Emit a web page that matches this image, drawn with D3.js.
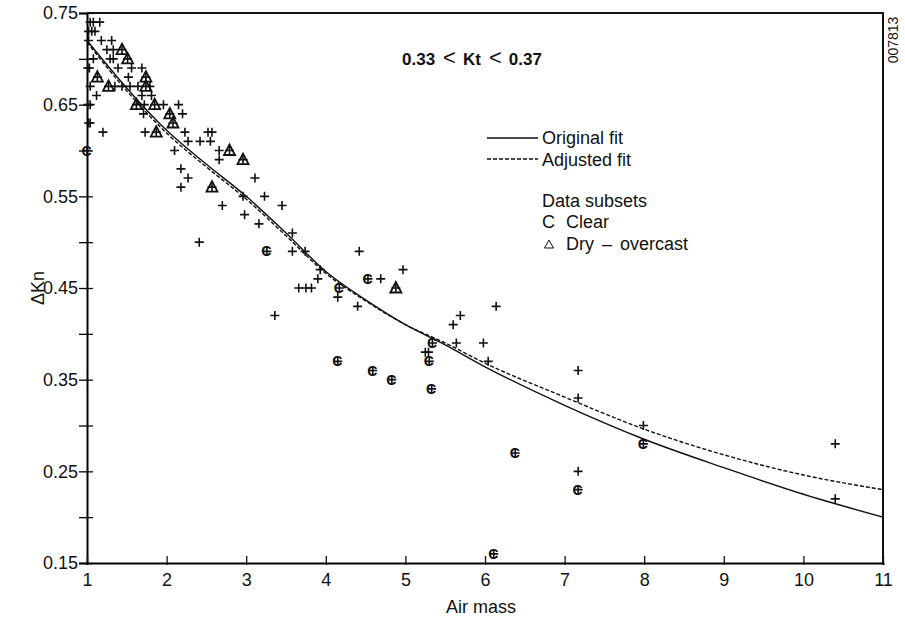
<!DOCTYPE html>
<html>
<head>
<meta charset="utf-8">
<script src="https://cdn.jsdelivr.net/npm/d3@7"></script>
<style>
  body { margin: 0; background: #fff; }
  svg text { font-family: "Liberation Sans", Arial, sans-serif; fill: #111; }
</style>
</head>
<body>
<svg id="chart" width="905" height="626"></svg>
<script>
const width = 905;
const height = 626;
const margin = { top: 13, right: 22, bottom: 63, left: 87 };
const chartWidth = width - margin.left - margin.right;
const chartHeight = height - margin.top - margin.bottom;

// ---- data ----
const xTicks = [1, 2, 3, 4, 5, 6, 7, 8, 9, 10, 11];
const yMajor = [0.15, 0.25, 0.35, 0.45, 0.55, 0.65, 0.75];
const yMinor = [0.2, 0.3, 0.4, 0.5, 0.6, 0.7];

// all ungrouped observations [air mass, delta Kn]
const plusPoints = [
  [1.04, 0.74], [1.08, 0.74], [1.16, 0.74],
  [1.02, 0.73], [1.06, 0.73], [1.10, 0.73],
  [1.02, 0.72], [1.18, 0.72], [1.31, 0.72],
  [1.25, 0.71], [1.33, 0.71],
  [1.08, 0.70], [1.29, 0.70], [1.33, 0.70],
  [1.01, 0.69], [1.03, 0.69], [1.39, 0.69], [1.56, 0.69], [1.69, 0.69],
  [1.52, 0.68],
  [1.04, 0.67], [1.35, 0.67], [1.44, 0.67], [1.54, 0.67], [1.64, 0.67], [1.79, 0.67],
  [1.12, 0.66], [1.69, 0.66], [1.81, 0.66],
  [1.01, 0.65], [1.04, 0.65], [1.72, 0.65], [1.96, 0.65], [2.15, 0.65],
  [1.71, 0.64], [2.20, 0.64],
  [1.02, 0.63], [1.04, 0.63],
  [1.20, 0.62], [1.73, 0.62], [2.23, 0.62], [2.52, 0.62], [2.57, 0.62],
  [2.27, 0.61], [2.42, 0.61], [2.55, 0.61],
  [2.10, 0.60], [2.66, 0.60],
  [2.66, 0.59],
  [2.18, 0.58],
  [2.27, 0.57], [3.11, 0.57],
  [2.18, 0.56],
  [2.96, 0.55], [3.23, 0.55],
  [2.70, 0.54], [3.45, 0.54],
  [2.98, 0.53],
  [3.16, 0.52],
  [3.58, 0.51],
  [2.41, 0.50],
  [3.58, 0.49], [3.74, 0.49], [4.42, 0.49],
  [3.93, 0.47], [4.97, 0.47],
  [3.90, 0.46], [4.69, 0.46],
  [3.66, 0.45], [3.75, 0.45], [3.82, 0.45],
  [4.15, 0.44],
  [4.40, 0.43], [6.14, 0.43],
  [3.36, 0.42], [5.69, 0.42],
  [5.60, 0.41],
  [5.64, 0.39], [5.98, 0.39],
  [5.25, 0.38], [5.29, 0.38],
  [6.04, 0.37],
  [7.17, 0.36],
  [7.17, 0.33],
  [7.99, 0.30],
  [10.4, 0.28],
  [7.17, 0.25],
  [10.4, 0.22]
];

// "Clear" subset
const clearPoints = [
  [1.00, 0.60], [3.26, 0.49], [4.53, 0.46], [4.17, 0.45], [4.15, 0.37],
  [4.59, 0.36], [4.83, 0.35], [5.33, 0.34], [5.34, 0.39], [5.30, 0.37],
  [7.99, 0.28], [6.38, 0.27], [7.17, 0.23], [6.11, 0.16]
];

// "Dry - overcast" subset
const overcastPoints = [
  [1.44, 0.71], [1.51, 0.70], [1.13, 0.68], [1.74, 0.68], [1.27, 0.67],
  [1.74, 0.67], [1.62, 0.65], [1.85, 0.65], [2.04, 0.64], [2.08, 0.63],
  [1.87, 0.62], [2.79, 0.60], [2.96, 0.59], [2.57, 0.56], [4.88, 0.45]
];

// fitted curves
const fitAirMass = [1, 1.5, 2, 2.5, 3, 3.5, 4, 4.5, 5, 5.5, 6, 7, 8, 9, 10, 11];
const originalFit = [0.72, 0.668, 0.622, 0.585, 0.55, 0.51, 0.468, 0.437, 0.41, 0.388, 0.364, 0.322, 0.285, 0.254, 0.225, 0.20];
const adjustedFit = [0.718, 0.665, 0.619, 0.582, 0.547, 0.507, 0.466, 0.436, 0.41, 0.39, 0.368, 0.331, 0.296, 0.268, 0.246, 0.23];

const svg = d3.select("#chart");
const g = svg.append("g").attr("transform", `translate(${margin.left},${margin.top})`);

const x = d3.scaleLinear().domain([1, 11]).range([0, chartWidth]);
const y = d3.scaleLinear().domain([0.15, 0.75]).range([chartHeight, 0]);

// frame (top + right)
g.append("path")
  .attr("d", `M0,0H${chartWidth}V${chartHeight}`)
  .attr("fill", "none").attr("stroke", "#111").attr("stroke-width", 2);

// y axis, ticks cross the axis line
const yAxis = g.append("g")
  .call(d3.axisLeft(y).tickValues(yMajor).tickFormat(d3.format(".2f")).tickSize(8).tickPadding(1));
yAxis.selectAll("text").style("font-size", "18px");
yAxis.selectAll(".tick").append("line").attr("x2", 6).attr("stroke", "#111");
g.append("g")
  .call(d3.axisLeft(y).tickValues(yMinor).tickFormat("").tickSize(8))
  .call(a => a.select(".domain").remove())
  .selectAll(".tick").append("line").attr("x2", 6).attr("stroke", "#111");
yAxis.select(".domain").attr("stroke-width", 2);
g.selectAll(".tick line").attr("stroke-width", 1.3);

// x axis
const xAxis = g.append("g")
  .attr("transform", `translate(0,${chartHeight})`)
  .call(d3.axisBottom(x).tickValues(xTicks).tickSize(2).tickPadding(8));
xAxis.selectAll("text").style("font-size", "18px");
xAxis.selectAll(".tick").append("line").attr("y2", -7).attr("stroke", "#111").attr("stroke-width", 1.3);
xAxis.select(".domain").attr("stroke-width", 2);

// axis titles
svg.append("text")
  .attr("x", margin.left + chartWidth / 2 - 4).attr("y", 613)
  .attr("text-anchor", "middle").style("font-size", "18px")
  .text("Air mass");
svg.append("text")
  .attr("transform", "translate(44,288) rotate(-90)")
  .attr("text-anchor", "middle").style("font-size", "18px")
  .text("\u0394Kn");
svg.append("text")
  .attr("transform", "translate(898,40) rotate(-90)")
  .attr("text-anchor", "middle").style("font-size", "14px")
  .text("007813");

// fit lines
const line = d3.line().x(d => x(d[0])).y(d => y(d[1])).curve(d3.curveMonotoneX);
g.append("path")
  .datum(fitAirMass.map((a, i) => [a, originalFit[i]]))
  .attr("d", line).attr("fill", "none").attr("stroke", "#111").attr("stroke-width", 1.4);
g.append("path")
  .datum(fitAirMass.map((a, i) => [a, adjustedFit[i]]))
  .attr("d", line).attr("fill", "none").attr("stroke", "#111").attr("stroke-width", 1.4)
  .attr("stroke-dasharray", "4,2");

// markers
const plusPath = "M-4.5,0H4.5M0,-4.5V4.5";
const allPlus = plusPoints.concat(clearPoints, overcastPoints);
g.selectAll("path.plus")
  .data(allPlus).enter()
  .append("path")
  .attr("class", "plus")
  .attr("d", plusPath)
  .attr("transform", d => `translate(${x(d[0])},${y(d[1])})`)
  .attr("fill", "none").attr("stroke", "#111").attr("stroke-width", 1.6);

g.selectAll("text.clear")
  .data(clearPoints).enter()
  .append("text")
  .attr("class", "clear")
  .attr("x", d => x(d[0]) - 0.5).attr("y", d => y(d[1]) + 5)
  .attr("text-anchor", "middle")
  .style("font-size", "14px").style("font-weight", "bold")
  .text("C");

const triPath = "M0,-6L5.5,4.5H-5.5Z";
g.selectAll("path.tri")
  .data(overcastPoints).enter()
  .append("path")
  .attr("class", "tri")
  .attr("d", triPath)
  .attr("transform", d => `translate(${x(d[0])},${y(d[1])})`)
  .attr("fill", "none").attr("stroke", "#111").attr("stroke-width", 1.8);

// annotation + legend
const title = svg.append("text").attr("x", 402).attr("y", 65).style("font-size", "17px");
title.append("tspan").style("font-weight", "bold").text("0.33");
title.append("tspan").attr("dx", 8).style("font-size", "22px").text("<");
title.append("tspan").attr("dx", 7).style("font-weight", "bold").text("Kt");
title.append("tspan").attr("dx", 8).style("font-size", "22px").text("<");
title.append("tspan").attr("dx", 7).style("font-weight", "bold").text("0.37");

const lg = svg.append("g").style("font-size", "18px");
lg.append("line").attr("x1", 487).attr("x2", 538).attr("y1", 138).attr("y2", 138)
  .attr("stroke", "#111").attr("stroke-width", 1.4);
lg.append("text").attr("x", 542).attr("y", 144).text("Original fit");
lg.append("line").attr("x1", 487).attr("x2", 538).attr("y1", 159).attr("y2", 159)
  .attr("stroke", "#111").attr("stroke-width", 1.4).attr("stroke-dasharray", "4,2");
lg.append("text").attr("x", 542).attr("y", 166).text("Adjusted fit");
lg.append("text").attr("x", 542).attr("y", 207).text("Data subsets");
lg.append("text").attr("x", 542).attr("y", 228).text("C");
lg.append("text").attr("x", 566).attr("y", 228).text("Clear");
lg.append("path").attr("d", "M0,-5L4.5,3H-4.5Z")
  .attr("transform", "translate(549,245)")
  .attr("fill", "none").attr("stroke", "#111").attr("stroke-width", 1);
const dry = lg.append("text").attr("x", 566).attr("y", 250);
dry.append("tspan").text("Dry");
dry.append("tspan").attr("dx", 8).text("\u2013");
dry.append("tspan").attr("dx", 8).text("overcast");
</script>
</body>
</html>
